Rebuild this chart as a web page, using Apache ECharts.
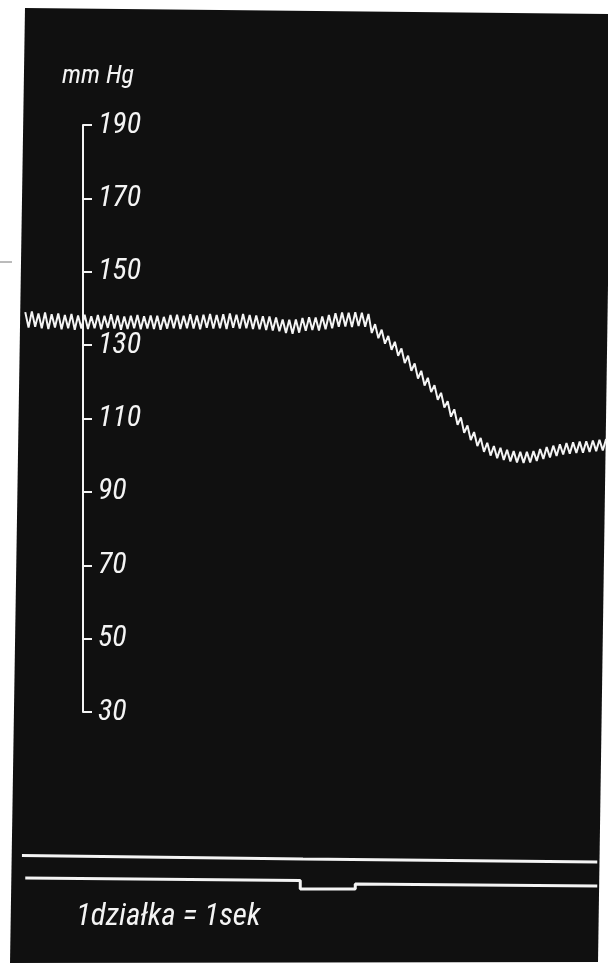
<!DOCTYPE html>
<html>
<head>
<meta charset="utf-8">
<script src="https://cdn.jsdelivr.net/npm/echarts@6/dist/echarts.min.js"></script>
<style>
  html, body { margin: 0; padding: 0; background: #ffffff; }
  #chart { width: 608px; height: 965px; }
</style>
</head>
<body>
<div id="chart"></div>
<script>
// ---- data ----
const yTicks = [30, 50, 70, 90, 110, 130, 150, 170, 190];   // mm Hg
const yUnit = 'mm Hg';
const scaleNote = '1działka = 1sek';

// blood pressure trace: samples every 0.06 s starting at -1.05 s (alternating pulse peaks / troughs)
const traceStart = -1.05;
const traceStep = 0.06;
const pressure = [
  139.0, 134.8, 139.2, 135.0, 138.6, 134.6, 138.9, 134.4, 138.4, 134.8,
  138.6, 134.3, 138.2, 134.6, 138.5, 134.2, 138.1, 134.5, 138.3, 134.4,
  137.9, 134.6, 138.2, 134.3, 138.0, 134.7, 138.4, 134.5, 138.1, 134.2,
  137.8, 134.4, 138.0, 134.6, 138.2, 134.3, 137.9, 134.5, 138.1, 134.4,
  138.0, 134.2, 137.7, 134.5, 138.2, 134.6, 138.3, 134.4, 138.0, 134.6,
  138.4, 134.5, 138.1, 134.3, 138.3, 134.7, 138.5, 134.5, 138.2, 134.6,
  138.4, 134.4, 138.6, 134.7, 138.3, 134.5, 138.5, 134.6, 138.2, 134.4,
  138.1, 134.3, 137.9, 134.1, 137.8, 134.0, 137.5, 133.8,
  137.0, 133.3, 136.9, 133.1, 137.0, 133.4,
  137.4, 133.9, 137.6, 134.1, 137.5, 134.0, 137.8, 134.3, 138.2, 134.6,
  138.7, 135.0, 138.9, 135.1, 138.8, 134.9, 139.0, 135.2, 138.8, 135.0, 138.5,
  133.3, 135.7, 131.9, 134.2, 130.4, 132.5, 128.7, 130.9, 127.1, 129.1,
  125.1, 127.1, 123.0, 125.0, 120.9, 123.0, 119.0, 121.1, 117.2, 119.1,
  115.1, 117.0, 113.0, 114.7, 110.5, 112.5, 108.3, 110.3, 106.1, 108.1,
  104.1, 106.3, 102.5, 104.7, 100.9, 103.4, 99.9, 102.5, 99.2, 102.0,
  98.7, 101.5, 98.3, 101.1, 98.0, 100.9, 97.9, 100.9, 98.0, 101.1,
  98.4, 101.7, 99.0, 102.2, 99.4, 102.6, 99.8, 103.0, 100.2, 103.3,
  100.4, 103.5, 100.6, 103.7, 100.7, 103.8, 100.9, 104.0, 101.1, 104.2,
  101.3, 104.4
];

// time-marker traces at the bottom (seconds, arbitrary level units)
const markerTopTimes  = [-1.11, 4.0, 9.35];
const markerTopLevels = [8.9, 8.2, 7.6];
const markerLowTimes  = [-1.05, 3.95, 3.95, 4.95, 4.95, 9.35];
const markerLowLevels = [4.4, 3.9, 2.2, 2.2, 3.2, 2.8];

// ---- build chart ----
const traceData = pressure.map((v, i) => [traceStart + i * traceStep, v]);
const topData = markerTopTimes.map((t, i) => [t, markerTopLevels[i]]);
const lowData = markerLowTimes.map((t, i) => [t, markerLowLevels[i]]);

const FONT = "'Roboto Condensed', 'DejaVu Sans Condensed', sans-serif";
const WHITE = '#f4f4f4';

const chart = echarts.init(document.getElementById('chart'), null, { renderer: 'canvas' });
chart.setOption({
  animation: false,
  backgroundColor: '#ffffff',
  graphic: [
    {
      type: 'polygon', z: -10, silent: true,
      shape: { points: [[25, 8], [612, 14], [598, 962], [10, 963]] },
      style: { fill: '#101010' }
    },
    {
      type: 'line', z: -5, silent: true,
      shape: { x1: 0, y1: 262, x2: 12, y2: 262 },
      style: { stroke: '#777', lineWidth: 1 }
    },
    {
      type: 'text', left: 62, top: 63, z: 10,
      style: { text: yUnit, fill: WHITE, font: "italic 26px " + FONT }
    },
    {
      type: 'text', left: 76, top: 902, z: 10,
      style: { text: scaleNote, fill: WHITE, font: "italic 31px " + FONT }
    }
  ],
  grid: [
    { left: 20, width: 588, top: 125, height: 587, outerBoundsMode: 'none', containLabel: false },
    { left: 20, width: 588, top: 850, height: 50, outerBoundsMode: 'none', containLabel: false }
  ],
  xAxis: [
    { type: 'value', gridIndex: 0, min: -1.1455, max: 9.545, show: false },
    { type: 'value', gridIndex: 1, min: -1.1455, max: 9.545, show: false }
  ],
  yAxis: [
    {
      type: 'value', gridIndex: 0, position: 'left', offset: -63, min: 30, max: 190, interval: 20,
      axisLine: { show: true, onZero: false, lineStyle: { color: WHITE, width: 2 } },
      axisTick: { show: true, inside: true, length: 9, lineStyle: { color: WHITE, width: 2 } },
      axisLabel: {
        show: true, inside: true, margin: 15, color: WHITE,
        fontFamily: FONT, fontStyle: 'italic', fontSize: 30,
        showMinLabel: true, showMaxLabel: true
      },
      splitLine: { show: false }
    },
    { type: 'value', gridIndex: 1, min: 0, max: 10, show: false }
  ],
  series: [
    {
      type: 'line', xAxisIndex: 0, yAxisIndex: 0, data: traceData,
      showSymbol: false,
      lineStyle: { color: WHITE, width: 2 }
    },
    {
      type: 'line', xAxisIndex: 1, yAxisIndex: 1, data: topData,
      showSymbol: false,
      lineStyle: { color: WHITE, width: 3 }
    },
    {
      type: 'line', xAxisIndex: 1, yAxisIndex: 1, data: lowData,
      showSymbol: false,
      lineStyle: { color: WHITE, width: 3 }
    }
  ]
});
</script>
</body>
</html>
